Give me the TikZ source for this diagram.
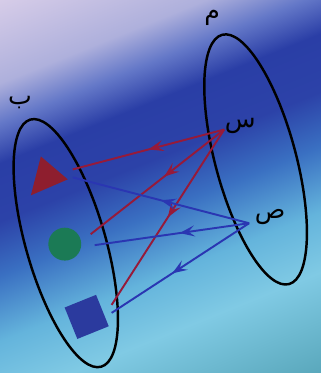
\documentclass[tikz,border=0pt]{standalone}
\usepackage{fontspec}
\newfontfamily\arabicfont[Script=Arabic]{DejaVu Sans}
\TeXXeTstate=1
\usetikzlibrary{arrows.meta,decorations.markings}

\definecolor{bgA}{HTML}{D6CCE8}
\definecolor{bgB}{HTML}{AEB0DC}
\definecolor{bgC}{HTML}{6478C8}
\definecolor{bgD}{HTML}{2A3EA6}
\definecolor{bgE}{HTML}{2C42A8}
\definecolor{bgF}{HTML}{3A70C2}
\definecolor{bgG}{HTML}{64B4DC}
\definecolor{bgH}{HTML}{80CAE4}
\definecolor{bgI}{HTML}{5AA8BC}
\pgfdeclareverticalshading{skyband}{100bp}{color(0bp)=(bgI); color(17.5bp)=(bgI);
  color(30.5bp)=(bgH); color(38.3bp)=(bgG); color(46.8bp)=(bgF); color(53.9bp)=(bgE);
  color(61.4bp)=(bgD); color(66.6bp)=(bgC); color(71.8bp)=(bgB); color(82.5bp)=(bgA);
  color(100bp)=(bgA)}

\definecolor{maproute}{HTML}{961A3A}
\definecolor{mapblue}{HTML}{2A36B2}
\definecolor{trired}{HTML}{8E1E2E}
\definecolor{dotgreen}{HTML}{1B7A55}
\definecolor{boxblue}{HTML}{2B3A9E}

\begin{document}
\begin{tikzpicture}[
  setline/.style={line width=1.4pt,black},
  letter/.style={font=\arabicfont\Large,inner sep=0pt},
  midarrow/.style={postaction={decorate,decoration={markings,
    mark=at position #1 with {\arrow{Stealth[length=3mm,width=2.2mm,inset=1.2mm]}}}}},
  redmap/.style={line width=1.1pt,maproute},
  bluemap/.style={line width=1.1pt,mapblue}]
  % background
  \shade[shading=skyband,shading angle=22] (0,0) rectangle (6.44,7.48);

  % the two sets
  \draw[setline] (5.13,4.28) ellipse [x radius=0.81,y radius=2.59,rotate=15];
  \draw[setline] (1.32,2.60) ellipse [x radius=0.80,y radius=2.58,rotate=16];
  \node[letter] (setA) at (4.26,7.12) {\beginR م\endR};
  \node[letter] (setB) at (0.40,5.42) {\beginR ب\endR};

  % elements of the first set
  \node[letter] (sx) at (4.82,4.96) {\beginR س\endR};
  \node[letter] (sy) at (5.42,3.12) {\beginR ص\endR};
  \coordinate (xs) at (4.50,4.88);
  \coordinate (ys) at (5.00,3.00);

  % elements of the second set
  \fill[trired] (0.62,3.56)--(0.82,4.34)--(1.36,3.88)--cycle;
  \node[circle,fill=dotgreen,minimum size=0.66cm,inner sep=0pt] (dot) at (1.30,2.58) {};
  \node[fill=boxblue,minimum size=0.68cm,inner sep=0pt,rotate=22] (box) at (1.74,1.12) {};
  \coordinate (triR) at (1.46,4.08);
  \coordinate (dotR) at (1.82,2.78);
  \coordinate (boxR) at (2.24,1.36);
  \coordinate (triB) at (1.46,3.92);
  \coordinate (dotB) at (1.90,2.56);
  \coordinate (boxB) at (2.24,1.20);

  % mappings
  \draw[redmap,midarrow=0.5] (xs)--(triR);
  \draw[redmap,midarrow=0.45] (xs)--(dotR);
  \draw[redmap,midarrow=0.5] (xs)--(boxR);
  \draw[bluemap,midarrow=0.5] (ys)--(triB);
  \draw[bluemap,midarrow=0.45] (ys)--(dotB);
  \draw[bluemap,midarrow=0.56] (ys)--(boxB);
\end{tikzpicture}
\end{document}
